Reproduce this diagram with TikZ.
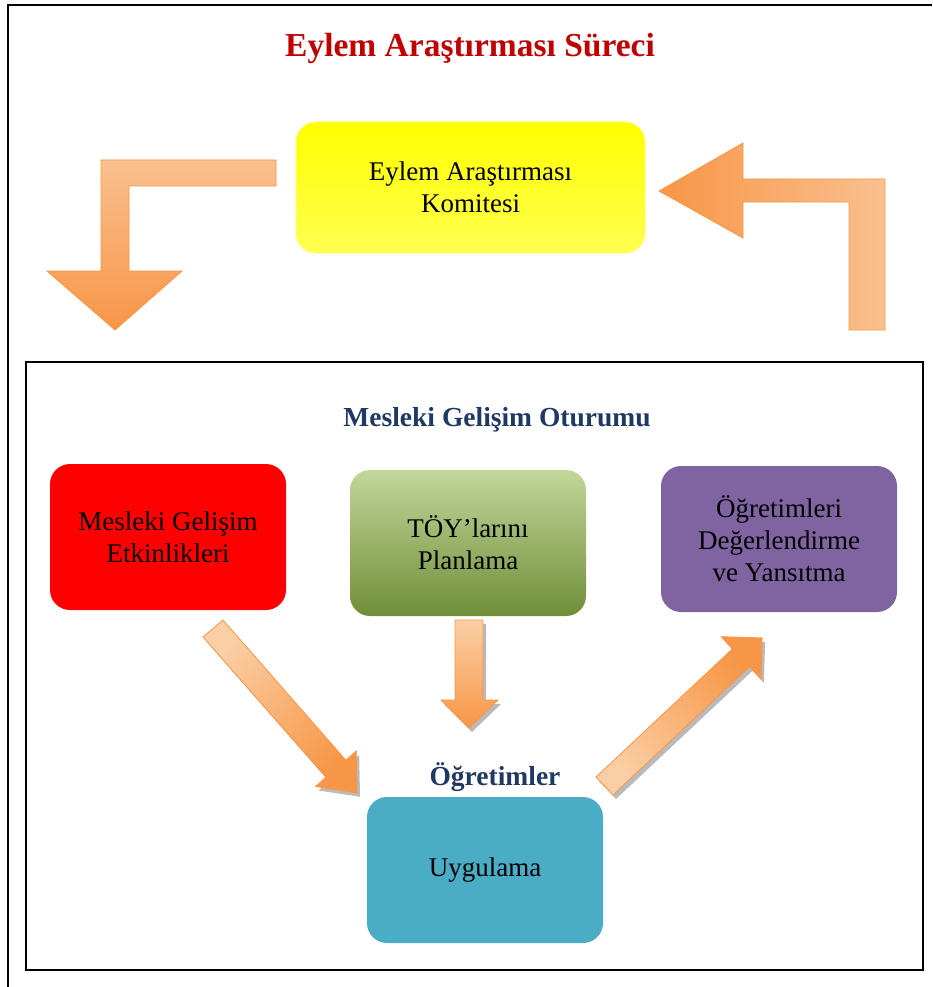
\documentclass[tikz,border=0pt]{standalone}
\usepackage{fontspec}
\setmainfont{Liberation Serif}
\definecolor{titlered}{HTML}{C00000}
\definecolor{navy}{HTML}{1F3864}
\definecolor{orlight}{HTML}{FAC090}
\definecolor{orpale}{HTML}{FBCFA6}
\definecolor{ordark}{HTML}{F79646}
\definecolor{yelA}{HTML}{FFFF00}
\definecolor{yelB}{HTML}{FFFF50}
\definecolor{yelEdge}{HTML}{FFFF70}
\definecolor{boxred}{HTML}{FF0000}
\definecolor{greenA}{HTML}{C3D69B}
\definecolor{greenB}{HTML}{6F8F38}
\definecolor{boxpurple}{HTML}{8064A2}
\definecolor{boxteal}{HTML}{4BACC6}
\tikzset{
  card/.style={rounded corners=20pt, minimum width=236pt, minimum height=146pt,
    align=center, inner sep=0pt, font=\fontsize{27}{32}\selectfont, text=black},
  heading/.style={font=\fontsize{27.5}{32}\selectfont\bfseries, text=navy},
  blockarrow/.style={draw=ordark, line width=0.8pt, line join=miter},
  arrowshadow/.style={fill=black!45, opacity=0.6},
  frameline/.style={line width=2pt, black}
}
\begin{document}
\begin{tikzpicture}[x=1pt,y=-1pt]
\useasboundingbox (0,0) rectangle (932,987);

% outer page frame (continues past the right and bottom edges)
\draw[frameline] (8,987) -- (8,5.5) -- (932,5.5);

% title
\node[font=\fontsize{33.5}{38}\selectfont\bfseries, text=titlered] (title) at (470,48) {Eylem Araştırması Süreci};

% committee box
\node[card, minimum width=349pt, minimum height=131pt, draw=yelEdge, line width=1pt,
      top color=yelA, bottom color=yelB] (committee) at (470.5,187.5)
      {Eylem Araştırması\\Komitesi};

% bent arrow leaving the committee (left side, pointing down)
\path[blockarrow, top color=orlight, bottom color=ordark]
  (276,160) -- (101,160) -- (101,271) -- (47,271) -- (115,330) -- (182,271)
  -- (129,271) -- (129,186) -- (276,186) -- cycle;

% bent arrow returning to the committee (right side, pointing left)
\path[blockarrow, left color=ordark, right color=orlight]
  (659,191) -- (743,143) -- (743,179) -- (885,179) -- (885,330) -- (849,330)
  -- (849,202) -- (743,202) -- (743,238) -- cycle;

% session frame
\draw[frameline] (26,362) rectangle (923,970);
\node[heading] (session) at (497,420) {Mesleki Gelişim Oturumu};

% session cards
\node[card, fill=boxred] (activities) at (168,537) {Mesleki Gelişim\\Etkinlikleri};
\node[card, top color=greenA, bottom color=greenB] (planning) at (468,543) {TÖY’larını\\Planlama};
\node[card, fill=boxpurple] (evaluation) at (779,539) {Öğretimleri\\Değerlendirme\\ve Yansıtma};

\node[heading] (teaching) at (495,777) {Öğretimler};
\node[card, fill=boxteal] (practice) at (485,870) {Uygulama};

% shadows of the inner arrows
\begin{scope}[shift={(3,4)}]
  \fill[arrowshadow] (203,637) -- (325.9,777.2) -- (315.6,786.5) -- (357,792.8)
    -- (356.2,750.9) -- (345.9,760.2) -- (223,620) -- cycle;
  \fill[arrowshadow] (455,620) -- (455,700) -- (441,700) -- (469,728) -- (498,700)
    -- (483,700) -- (483,620) -- cycle;
  \fill[arrowshadow] (596,777) -- (732.5,648.8) -- (721.1,636.7) -- (762.1,637.9)
    -- (760.9,678.9) -- (749.5,666.8) -- (613,795) -- cycle;
\end{scope}

% activities -> practice
\path[blockarrow, top color=orpale, bottom color=ordark, shading angle=45]
  (203,637) -- (325.9,777.2) -- (315.6,786.5) -- (357,792.8)
  -- (356.2,750.9) -- (345.9,760.2) -- (223,620) -- cycle;

% planning -> practice
\path[blockarrow, top color=orpale, bottom color=ordark]
  (455,620) -- (455,700) -- (441,700) -- (469,728) -- (498,700)
  -- (483,700) -- (483,620) -- cycle;

% practice -> evaluation
\path[blockarrow, top color=ordark, bottom color=orpale, shading angle=-45]
  (596,777) -- (732.5,648.8) -- (721.1,636.7) -- (762.1,637.9)
  -- (760.9,678.9) -- (749.5,666.8) -- (613,795) -- cycle;
\end{tikzpicture}
\end{document}
